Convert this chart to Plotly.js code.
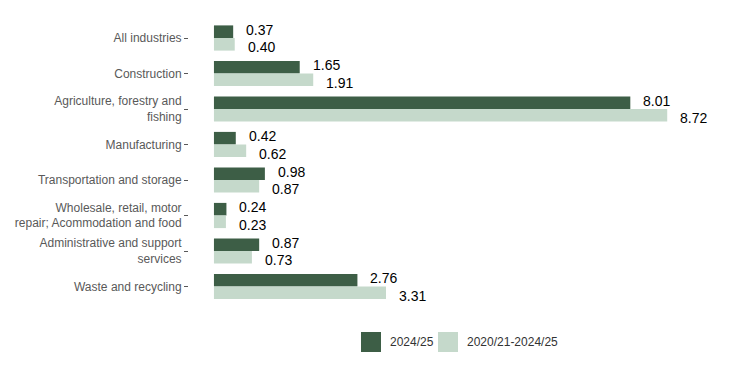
<!DOCTYPE html>
<html>
<head>
<meta charset="utf-8">
<script src="https://cdn.plot.ly/plotly-3.0.1.min.js"></script>
<style>html,body{margin:0;padding:0;background:#fff;}#chart{width:754px;height:376px;}</style>
</head>
<body>
<div id="chart"></div>
<script>
const categories = [
  "All industries",
  "Construction",
  "Agriculture, forestry and<br>fishing",
  "Manufacturing",
  "Transportation and storage",
  "Wholesale, retail, motor<br>repair; Acommodation and food",
  "Administrative and support<br>services",
  "Waste and recycling"
];
const series2024 = [0.37, 1.65, 8.01, 0.42, 0.98, 0.24, 0.87, 2.76];
const series2020 = [0.40, 1.91, 8.72, 0.62, 0.87, 0.23, 0.73, 3.31];
const seriesNames = ["2024/25", "2020/21-2024/25"];
const colors = ["#3d5e46", "#c5d9cb"];

const fontFam = "Liberation Sans, Arial, sans-serif";
const labelFont = {family: fontFam, size: 14, color: "#000000"};

const data = [
  {type: "bar", orientation: "h", y: categories, x: series2024, name: seriesNames[0],
   marker: {color: colors[0]}, showlegend: false, hoverinfo: "skip"},
  {type: "bar", orientation: "h", y: categories, x: series2020, name: seriesNames[1],
   marker: {color: colors[1]}, showlegend: false, hoverinfo: "skip"}
];

const annotations = [];
categories.forEach((c, i) => {
  annotations.push({x: series2024[i], y: c, xref: "x", yref: "y", text: series2024[i].toFixed(2),
    showarrow: false, xanchor: "left", yanchor: "middle", xshift: 11, yshift: 8.5, font: labelFont});
  annotations.push({x: series2020[i], y: c, xref: "x", yref: "y", text: series2020[i].toFixed(2),
    showarrow: false, xanchor: "left", yanchor: "middle", xshift: 11, yshift: -9, font: labelFont});
});

// manual legend (paper coordinates)
const legX = [0.3276, 0.4743];
const shapes = [];
seriesNames.forEach((n, k) => {
  shapes.push({type: "rect", xref: "paper", yref: "paper", x0: legX[k], x1: legX[k] + 0.0381,
    y0: -0.1643, y1: -0.0944, fillcolor: colors[k], line: {width: 0}});
  annotations.push({xref: "paper", yref: "paper", x: legX[k] + 0.0514, y: -0.1294, text: n,
    showarrow: false, xanchor: "left", yanchor: "middle",
    font: {family: fontFam, size: 12, color: "#333333"}});
});

const layout = {
  width: 754, height: 376,
  margin: {l: 189, r: 40, t: 19, b: 71, pad: 0},
  paper_bgcolor: "#ffffff", plot_bgcolor: "#ffffff",
  font: {family: fontFam, size: 12, color: "#595959"},
  barmode: "group", bargap: 0.29, bargroupgap: 0,
  xaxis: {range: [-0.48, 9.62], showticklabels: false, showgrid: false, zeroline: false,
          showline: false, ticks: "", fixedrange: true},
  yaxis: {autorange: "reversed", type: "category", showgrid: false, zeroline: false,
          showline: false, ticks: "outside", ticklen: 4, tickcolor: "#595959", tickwidth: 1,
          tickfont: {size: 12, color: "#595959"}},
  showlegend: false,
  annotations: annotations,
  shapes: shapes,
  hovermode: false
};

Plotly.newPlot("chart", data, layout, {displayModeBar: false, staticPlot: true});
</script>
</body>
</html>
